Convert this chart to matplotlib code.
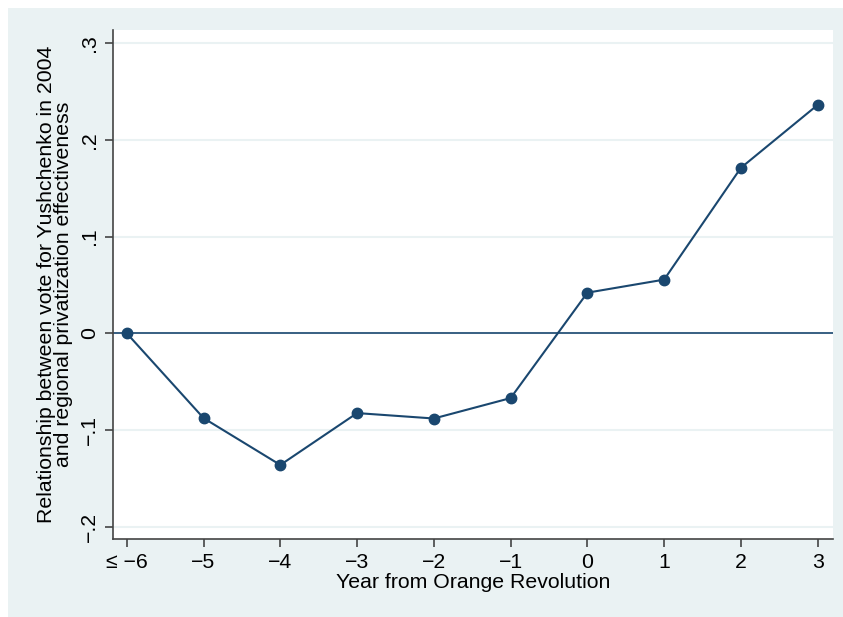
import matplotlib
matplotlib.use("Agg")
import matplotlib.pyplot as plt
from matplotlib.patches import Rectangle

years = [-6, -5, -4, -3, -2, -1, 0, 1, 2, 3]
coef = [0.0, -0.0876, -0.136, -0.0824, -0.088, -0.0669, 0.042, 0.0555, 0.171, 0.236]
x_labels = ["\u2264 \u22126", "\u22125", "\u22124", "\u22123", "\u22122", "\u22121", "0", "1", "2", "3"]
y_ticks = [-0.2, -0.1, 0.0, 0.1, 0.2, 0.3]
y_labels = ["\u2212.2", "\u2212.1", "0", ".1", ".2", ".3"]

navy = "#1a476f"
bg = "#eaf2f3"

plt.rcParams['font.family'] = ['Liberation Sans', 'DejaVu Sans']

fig = plt.figure(figsize=(8.43, 6.17), dpi=100, facecolor="white")
W, H = 843, 617
fig.patches.append(Rectangle((8 / W, 0), 1 - 8 / W, 1 - 8 / H, transform=fig.transFigure,
                             facecolor=bg, edgecolor="none", zorder=-10))

ax = fig.add_axes([113 / W, 1 - 539 / H, (833 - 113) / W, (539 - 30) / H])
ax.set_facecolor("white")

for t in y_ticks:
    ax.axhline(t, color=bg, lw=1.5, zorder=0)
ax.axhline(0, color=navy, lw=1.2, zorder=1)

ax.plot(years, coef, color=navy, lw=1.5, marker="o", markersize=7.5, zorder=3)

ax.set_xlim(-6.18, 3.2)
ax.set_ylim(-0.2125, 0.3134)
ax.set_xticks(years)
ax.set_xticklabels(x_labels)
ax.set_yticks(y_ticks)
ax.set_yticklabels(y_labels, rotation=90, va="center")

for s in ["top", "right"]:
    ax.spines[s].set_visible(False)
for s in ["left", "bottom"]:
    ax.spines[s].set_color("#444444")
    ax.spines[s].set_linewidth(1.2)

fs = 15.3
ax.tick_params(axis="both", labelsize=fs, length=6, width=1.2, color="#444444", pad=4)

ax.set_xlabel("Year from Orange Revolution", fontsize=fs, labelpad=1)
ax.set_ylabel("Relationship between vote for Yushchenko in 2004\nand regional privatization effectiveness",
              fontsize=fs, labelpad=5, linespacing=0.9)

fig.savefig("out.png", dpi=100, facecolor=fig.get_facecolor())
